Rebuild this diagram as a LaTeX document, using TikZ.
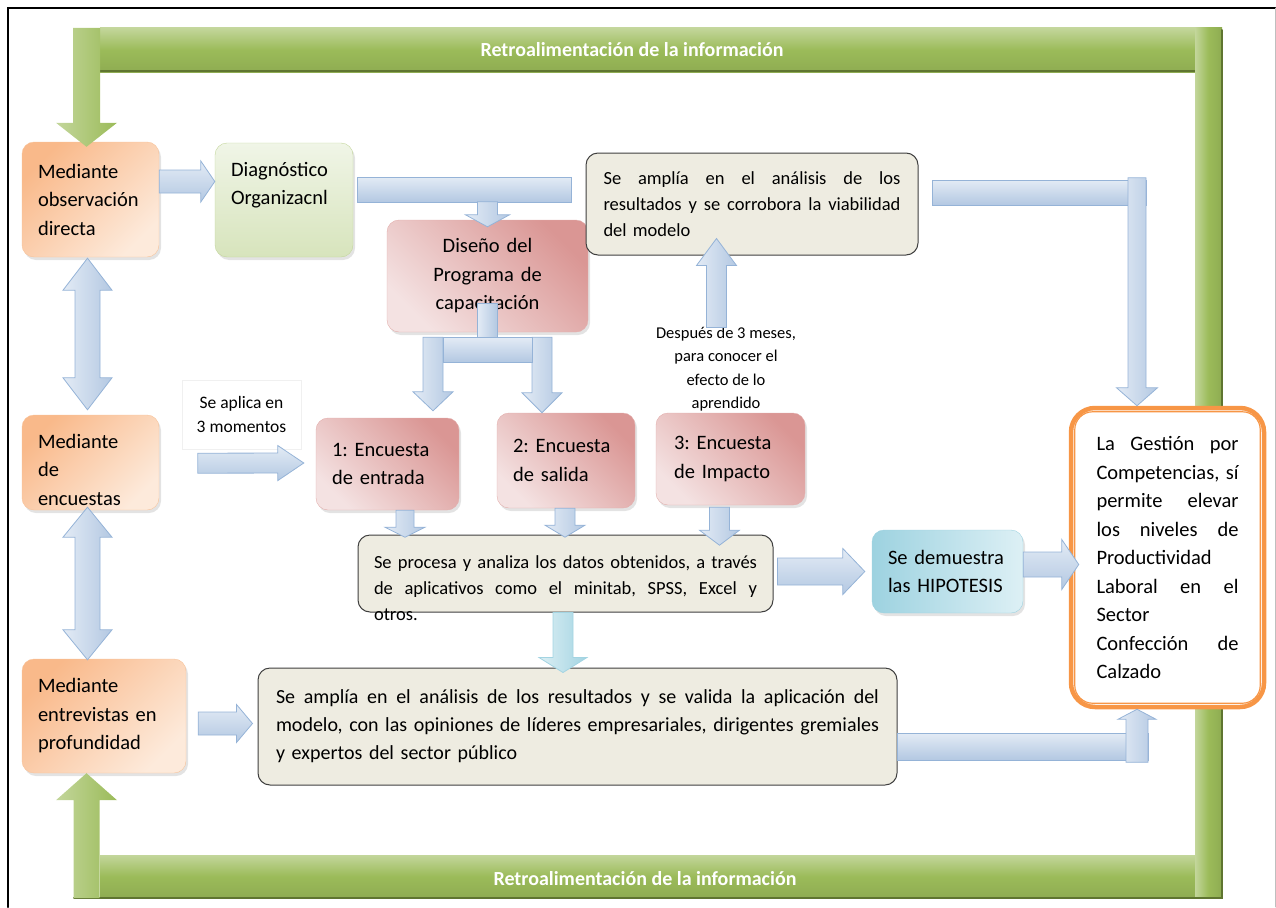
\documentclass[tikz,border=0pt]{standalone}
\usepackage{fontspec}
\setmainfont{Carlito}
\usetikzlibrary{calc,shadows}
\frenchspacing

\definecolor{orgD}{HTML}{F9B98A}
\definecolor{orgL}{HTML}{FDEADB}
\definecolor{orgB}{HTML}{F8C39A}
\definecolor{grnD}{HTML}{D7E4BC}
\definecolor{grnL}{HTML}{F0F5E7}
\definecolor{grnB}{HTML}{C3D69B}
\definecolor{redD}{HTML}{DA9694}
\definecolor{redL}{HTML}{F4E2E2}
\definecolor{redB}{HTML}{E3AFAD}
\definecolor{begF}{HTML}{EEECE1}
\definecolor{begB}{HTML}{3F3F3F}
\definecolor{tealD}{HTML}{9DD2E0}
\definecolor{tealL}{HTML}{DDF0F5}
\definecolor{kOrg}{HTML}{F79646}
\definecolor{arrL}{HTML}{E3EBF5}
\definecolor{arrD}{HTML}{B3C8E2}
\definecolor{arrB}{HTML}{95B3D7}
\definecolor{cyaL}{HTML}{DCEFF4}
\definecolor{cyaD}{HTML}{A3D4E2}
\definecolor{fbL}{HTML}{C3D69B}
\definecolor{fbM}{HTML}{9BBB59}
\definecolor{fbD}{HTML}{5F7530}

\newcommand{\jline}[2]{\makebox[#1][s]{\spaceskip=0.23em plus 1fil\relax #2}}
\newcommand{\barrow}[6][]{%
  \coordinate (ba-s) at (#2);
  \coordinate (ba-e) at (#3);
  \path[blockarr,#1] ($(ba-s)!#4!90:(ba-e)$) -- ($(ba-e)!#6!(ba-s)!#4!-90:(ba-s)$)
    -- ($(ba-e)!#6!(ba-s)!#5!-90:(ba-s)$) -- (ba-e)
    -- ($(ba-e)!#6!(ba-s)!#5!90:(ba-s)$) -- ($(ba-e)!#6!(ba-s)!#4!90:(ba-s)$)
    -- ($(ba-s)!#4!-90:(ba-e)$) -- cycle;}
\newcommand{\dbarrow}[6][]{%
  \coordinate (ba-s) at (#2);
  \coordinate (ba-e) at (#3);
  \path[blockarr,#1] (ba-s) -- ($(ba-s)!#6!(ba-e)!#5!90:(ba-e)$) -- ($(ba-s)!#6!(ba-e)!#4!90:(ba-e)$)
    -- ($(ba-e)!#6!(ba-s)!#4!-90:(ba-s)$) -- ($(ba-e)!#6!(ba-s)!#5!-90:(ba-s)$) -- (ba-e)
    -- ($(ba-e)!#6!(ba-s)!#5!90:(ba-s)$) -- ($(ba-e)!#6!(ba-s)!#4!90:(ba-s)$)
    -- ($(ba-s)!#6!(ba-e)!#4!-90:(ba-e)$) -- ($(ba-s)!#6!(ba-e)!#5!-90:(ba-e)$) -- cycle;}

\tikzset{
  box/.style={rounded corners=12pt, align=left, inner xsep=16pt, inner ysep=4pt,
    font=\fontsize{20.5}{28.5}\selectfont},
  boxshadow/.style={drop shadow={opacity=0.22, shadow xshift=2pt, shadow yshift=-3pt}},
  obox/.style={box, boxshadow, draw=orgB, top color=orgD, bottom color=orgL, shading angle=45},
  gbox/.style={box, boxshadow, draw=grnB, top color=grnL, bottom color=grnD},
  rbox/.style={box, boxshadow, draw=redB, top color=redD, bottom color=redL, shading angle=-45},
  tbox/.style={box, boxshadow, draw=tealD, left color=tealD, right color=tealL},
  bbox/.style={box, draw=begB, line width=1pt, fill=begF, font=\fontsize{18.5}{26}\selectfont},
  kbox/.style={box, draw=kOrg, line width=4.5pt, rounded corners=24pt, fill=white, inner xsep=25.5pt},
  notebox/.style={draw=black!6, fill=white, align=center, font=\fontsize{17.5}{24.5}\selectfont},
  blockarr/.style={draw=arrB, line width=0.8pt, line join=miter},
  harr/.style={top color=arrL, bottom color=arrD},
  varr/.style={left color=arrL, right color=arrD},
  carr/.style={draw=cyaD, left color=cyaL, right color=cyaD},
  fbarr/.style={draw=none, left color=fbL, right color=fbM},
  fbh/.style={top color=fbL, bottom color=fbM!92!black, middle color=fbM},
  fbv/.style={left color=fbL, right color=fbM!92!black, middle color=fbM},
  fbtext/.style={text=white, font=\bfseries\fontsize{20}{22}\selectfont}
}

\begin{document}
\begin{tikzpicture}[x=1pt,y=-1pt,line cap=round]
\useasboundingbox (0,0) rectangle (1276,907);
\draw[line width=2pt] (8,907) -- (8,8) -- (1276,8);
\draw[black!25, line width=0.8pt] (1275,8) -- (1275,907);

\fill[fbh] (100,28) rectangle (1195,72);
\draw[fbD, line width=2pt] (100,71) -- (1195,71);
\fill[fbh] (100,855) rectangle (1195,898);
\fill[fbv] (1195,28) rectangle (1222,898);
\draw[fbD, line width=2pt] (1222,30) -- (1222,898) -- (74,898);
\node[fbtext] (fbtop) at (632,50) {Retroalimentación de la información};
\node[fbtext] (fbbot) at (645,879) {Retroalimentación de la información};

\node[obox, minimum width=137pt, minimum height=115pt, text width=105pt] (obs) at (90.5,199.5) {Mediante\\observación\\directa};
\node[gbox, minimum width=138pt, minimum height=114pt, text width=106pt, text height=29pt, text depth=77pt] (diag) at (284,200) {Diagnóstico\\Organizacnl};
\node[rbox, align=center, minimum width=201pt, minimum height=112pt, text width=169pt] (dise) at (487.5,276) {Diseño del\\Programa de\\capacitación};
\node[bbox, minimum width=332pt, minimum height=102pt, text width=297pt] (ampl) at (752,204) {\jline{297pt}{Se amplía en el análisis de los}\\\jline{297pt}{resultados y se corrobora la viabilidad}\\del modelo};
\node[obox, minimum width=137pt, minimum height=95pt, text width=105pt, text height=29pt, text depth=58pt] (encu) at (90.5,462.5) {Mediante\\de\\encuestas};
\node[notebox, minimum width=119pt, minimum height=69pt] (mom) at (241.5,414.5) {Se aplica en\\3 momentos};
\node[rbox, minimum width=143pt, minimum height=92pt, text width=111pt] (ent) at (387.5,464) {1: Encuesta\\de entrada};
\node[rbox, minimum width=138pt, minimum height=95pt, text width=106pt] (sal) at (566,460.5) {2: Encuesta\\de salida};
\node[rbox, minimum width=149pt, minimum height=92pt, text width=113pt] (imp) at (730.5,459) {3: Encuesta\\de Impacto};
\node[align=center, font=\fontsize{16.5}{23.5}\selectfont] (meses) at (726,369) {Después de 3 meses,\\para conocer el\\efecto de lo\\aprendido};
\node[bbox, minimum width=415pt, minimum height=77pt, text width=383pt, text height=29pt, text depth=40pt] (proc) at (565.5,573.5) {\jline{383pt}{Se procesa y analiza los datos obtenidos, a través}\\\jline{383pt}{de aplicativos como el minitab, SPSS, Excel y}\\otros.};
\node[tbox, minimum width=149pt, minimum height=83pt, text width=119pt] (hipo) at (947.5,571.5) {Se demuestra\\las HIPOTESIS};
\node[kbox, minimum width=193pt, minimum height=299pt, text width=142pt] (gest) at (1167.5,557.5) {\jline{142pt}{La Gestión por}\\\jline{142pt}{Competencias, sí}\\\jline{142pt}{permite elevar}\\\jline{142pt}{los niveles de}\\Productividad\\\jline{142pt}{Laboral en el}\\Sector\\\jline{142pt}{Confección de}\\Calzado};
\draw[kOrg, line width=1.2pt, rounded corners=18pt] ($(gest.north west)+(6,6)$) rectangle ($(gest.south east)+(-6,-6)$);
\node[obox, minimum width=164pt, minimum height=114pt, text width=132pt] (entr) at (104,716) {Mediante\\entrevistas en\\profundidad};
\node[bbox, minimum width=639pt, minimum height=117pt, text width=603pt, inner xsep=18pt, font=\fontsize{20}{28}\selectfont] (vali) at (577.5,726.5) {\jline{603pt}{Se amplía en el análisis de los resultados y se valida la aplicación del}\\\jline{603pt}{modelo, con las opiniones de líderes empresariales, dirigentes gremiales}\\y expertos del sector público};

\coordinate (fbTL) at (86.5,28);
\coordinate (fbBL) at (86.5,898);
\coordinate (fbTtip) at ($(fbTL |- obs.north)+(0,5)$);
\coordinate (fbBtip) at (fbBL |- entr.south);
\barrow[fbarr]{fbTL}{fbTtip}{13.5pt}{30.5pt}{24pt}
\barrow[fbarr]{fbBL}{fbBtip}{13pt}{30.5pt}{27pt}

\barrow[harr]{$(obs.east)+(0,-18)$}{$(diag.west)+(0,-18.5)$}{11.5pt}{20.5pt}{14pt}
\path[blockarr,harr] ($(diag.east)+(4,-23)$) rectangle ($(diag.east)+(218,2)$);
\barrow[varr]{$(dise.north)+(0,-18)$}{$(dise.north)+(0,7)$}{10pt}{22pt}{12pt}
\path[blockarr,varr] ($(dise.south)+(-10,-29)$) rectangle ($(dise.south)+(10,5)$);
\barrow[varr]{$(dise.south)+(-54.5,5)$}{$(ent.north)+(45.5,-7)$}{10pt}{20pt}{19pt}
\barrow[varr]{$(dise.south)+(54.5,5)$}{$(sal.north)+(-24,0)$}{10pt}{20pt}{20pt}
\path[blockarr,harr] ($(dise.south)+(-44.5,5)$) rectangle ($(dise.south)+(44.5,30)$);
\barrow[harr]{$(mom.south west)+(16,14)$}{$(ent.west)+(-12,-1)$}{10pt}{17.5pt}{26pt}
\barrow[varr]{$(ampl.south)+(-35.5,72)$}{$(ampl.south)+(-35.5,-17)$}{10pt}{20pt}{27pt}
\path[blockarr,harr] ($(ampl.east)+(14,-24)$) rectangle ($(ampl.east)+(228,1)$);
\barrow[varr]{$(gest.north)+(-30.5,-228)$}{$(gest.north)+(-30.5,0)$}{9pt}{20.5pt}{18pt}
\barrow[varr]{$(ent.south)+(17.5,0)$}{$(ent.south)+(17.5,27)$}{9pt}{20pt}{10pt}
\barrow[varr]{$(sal.south)+(-1,0)$}{$(sal.south)+(-1,29)$}{10pt}{20pt}{12pt}
\barrow[varr]{$(imp.south)+(-11,2)$}{$(imp.south)+(-11,40)$}{10pt}{20pt}{15pt}
\barrow[harr]{$(proc.east)+(4,-2)$}{$(hipo.west)+(-7,0)$}{13.5pt}{23pt}{22pt}
\barrow[harr]{$(hipo.east)+(0,-7)$}{$(gest.west)+(10,7)$}{12.5pt}{25pt}{17pt}
\barrow[carr]{$(proc.south)+(-2.5,0)$}{$(proc.south)+(-2.5,60)$}{10pt}{24pt}{15pt}
\barrow[harr]{$(entr.east)+(12,7.5)$}{$(vali.west)+(-5,-3)$}{11.5pt}{19pt}{16pt}
\path[blockarr,harr] ($(vali.east)+(0,6.5)$) rectangle ($(vali.east)+(251,33.5)$);
\barrow[varr]{$(gest.south)+(-30.5,53)$}{$(gest.south)+(-30.5,0)$}{11pt}{19pt}{10pt}
\dbarrow[varr]{$(obs.south)+(-3,1)$}{$(encu.north)+(-3,-5)$}{12.5pt}{24.5pt}{32pt}
\dbarrow[varr]{$(encu.south)+(-3,-3)$}{$(entr.north)+(-16.5,1)$}{12.5pt}{24.5pt}{30pt}
\end{tikzpicture}
\end{document}
